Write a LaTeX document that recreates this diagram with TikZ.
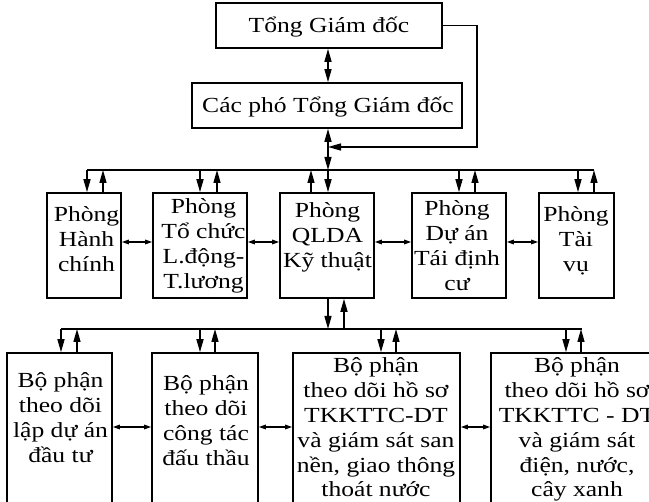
\documentclass[tikz,border=0pt]{standalone}
\usepackage{fontspec}
\setmainfont{Liberation Serif}[FakeStretch=1.19]
\usetikzlibrary{arrows.meta}
% centred lines set exactly one \baselineskip apart; baseline = first line
\newcommand\linestack[1]{\vtop{\lineskiplimit=-\maxdimen\halign{\hfil##\hfil\cr#1\crcr}}}
\begin{document}
\begin{tikzpicture}[x=1pt,y=-1pt,
  font=\fontsize{21.5}{24.8}\selectfont,
  box/.style={draw,line width=1.6pt,inner sep=0pt},
  txt/.style={inner sep=0pt,anchor=base},
  wire/.style={line width=1.4pt},
  arr/.style={wire,-{Triangle[length=13pt,width=7pt]}},
  biarr/.style={wire,{Triangle[length=13pt,width=7pt]}-{Triangle[length=13pt,width=7pt]}},
  harr/.style={wire,{Triangle[length=7pt,width=4.5pt]}-{Triangle[length=7pt,width=4.5pt]}}]
\useasboundingbox (0,0) rectangle (649,502);
\clip (0,0) rectangle (649,502);

% ---- management ----
\node[box,minimum width=226pt,minimum height=45pt] (tgd) at (329,25.5) {};
\node[txt] (tgdT) at (329,33) {Tổng Giám đốc};
\node[box,minimum width=270pt,minimum height=45pt] (cp) at (327,105.5) {};
\node[txt] (cpT) at (328,113) {Các phó Tổng Giám đốc};

% ---- departments ----
\node[box,minimum width=74pt,minimum height=105pt] (hc) at (84,245.5) {};
\node[box,minimum width=94pt,minimum height=105pt] (tc) at (200,245.5) {};
\node[box,minimum width=94pt,minimum height=105pt] (ql) at (327,245.5) {};
\node[box,minimum width=94pt,minimum height=105pt] (da) at (459,245.5) {};
\node[box,minimum width=75pt,minimum height=105pt] (tv) at (576.5,245.5) {};
\node[txt] (hcT) at (86.5,222) {\linestack{Phòng\cr Hành\cr chính}};
\node[txt] (tcT) at (203.5,214) {\linestack{Phòng\cr Tổ chức\cr L.động-\cr T.lương}};
\node[txt] (qlT) at (327.5,218) {\linestack{Phòng\cr QLDA\cr Kỹ thuật}};
\node[txt] (daT) at (457,216) {\linestack{Phòng\cr Dự án\cr Tái định\cr cư}};
\node[txt] (tvT) at (576,222) {\linestack{Phòng\cr Tài\cr vụ}};

% ---- sections under QLDA ----
\node[box,minimum width=105pt,minimum height=177pt] (b1) at (59.5,441.5) {};
\node[box,minimum width=106pt,minimum height=177pt] (b2) at (205,441.5) {};
\node[box,minimum width=167pt,minimum height=177pt] (b3) at (376.5,441.5) {};
\node[box,minimum width=172pt,minimum height=177pt] (b4) at (577,441.5) {};
\node[txt] (b1T) at (60.5,388) {\linestack{Bộ phận\cr theo dõi\cr lập dự án\cr đầu tư}};
\node[txt] (b2T) at (206,391) {\linestack{Bộ phận\cr theo dõi\cr công tác\cr đấu thầu}};
\node[txt] (b3T) at (376,373) {\linestack{Bộ phận\cr theo dõi hồ sơ\cr TKKTTC-DT\cr và giám sát san\cr nền, giao thông\cr thoát nước}};
\node[txt] (b4T) at (577,373) {\linestack{Bộ phận\cr theo dõi hồ sơ\cr TKKTTC - DT\cr và giám sát\cr điện, nước,\cr cây xanh}};

% ---- main spine ----
\coordinate (sp) at (328,0);
\coordinate (j0) at (328,170);
\coordinate (rc) at (477,147);
\coordinate (ret) at (328,147);
\draw[biarr] (sp |- tgd.south) -- (sp |- cp.north);
\draw[biarr] (sp |- cp.south) -- (j0);
\draw[arr] (j0) -- (sp |- ql.north);
\draw[arr] (tgd.east) -| (rc) -- (ret);

% ---- upper bus ----
\coordinate (bus1L) at (87,170);
\coordinate (bus1R) at (594,170);
\draw[wire] (bus1L) -- (bus1R);
\coordinate (d1) at (87,170);  \coordinate (u1) at (103,170);
\coordinate (d2) at (200,170); \coordinate (u2) at (217,170);
\coordinate (u3) at (311,170);
\coordinate (d4) at (459,170); \coordinate (u4) at (475,170);
\coordinate (d5) at (578,170); \coordinate (u5) at (594,170);
\draw[arr] (d1) -- (d1 |- hc.north);
\draw[arr] (u1 |- hc.north) -- (u1);
\draw[arr] (d2) -- (d2 |- tc.north);
\draw[arr] (u2 |- tc.north) -- (u2);
\draw[arr] (u3 |- ql.north) -- (u3);
\draw[arr] (d4) -- (d4 |- da.north);
\draw[arr] (u4 |- da.north) -- (u4);
\draw[arr] (d5) -- (d5 |- tv.north);
\draw[arr] (u5 |- tv.north) -- (u5);

% ---- links between departments ----
\coordinate (mrow) at (0,242);
\draw[harr] (hc.east |- mrow) -- (tc.west |- mrow);
\draw[harr] (tc.east |- mrow) -- (ql.west |- mrow);
\draw[harr] (ql.east |- mrow) -- (da.west |- mrow);
\draw[harr] (da.east |- mrow) -- (tv.west |- mrow);

% ---- lower bus ----
\coordinate (j1) at (328,329);
\coordinate (u6) at (344,329);
\draw[arr] (sp |- ql.south) -- (j1);
\draw[arr] (u6) -- (u6 |- ql.south);
\coordinate (bus2L) at (61,329);
\coordinate (bus2R) at (582,329);
\draw[wire] (bus2L) -- (bus2R);
\coordinate (e1) at (61,329);  \coordinate (v1) at (77,329);
\coordinate (e2) at (200,329); \coordinate (v2) at (215,329);
\coordinate (e3) at (381,329); \coordinate (v3) at (396,329);
\coordinate (e4) at (566,329); \coordinate (v4) at (581,329);
\draw[arr] (e1) -- (e1 |- b1.north);
\draw[arr] (v1 |- b1.north) -- (v1);
\draw[arr] (e2) -- (e2 |- b2.north);
\draw[arr] (v2 |- b2.north) -- (v2);
\draw[arr] (e3) -- (e3 |- b3.north);
\draw[arr] (v3 |- b3.north) -- (v3);
\draw[arr] (e4) -- (e4 |- b4.north);
\draw[arr] (v4 |- b4.north) -- (v4);

% ---- links between sections ----
\coordinate (brow) at (0,427);
\draw[harr] (b1.east |- brow) -- (b2.west |- brow);
\draw[harr] (b2.east |- brow) -- (b3.west |- brow);
\draw[harr] (b3.east |- brow) -- (b4.west |- brow);
\end{tikzpicture}
\end{document}
